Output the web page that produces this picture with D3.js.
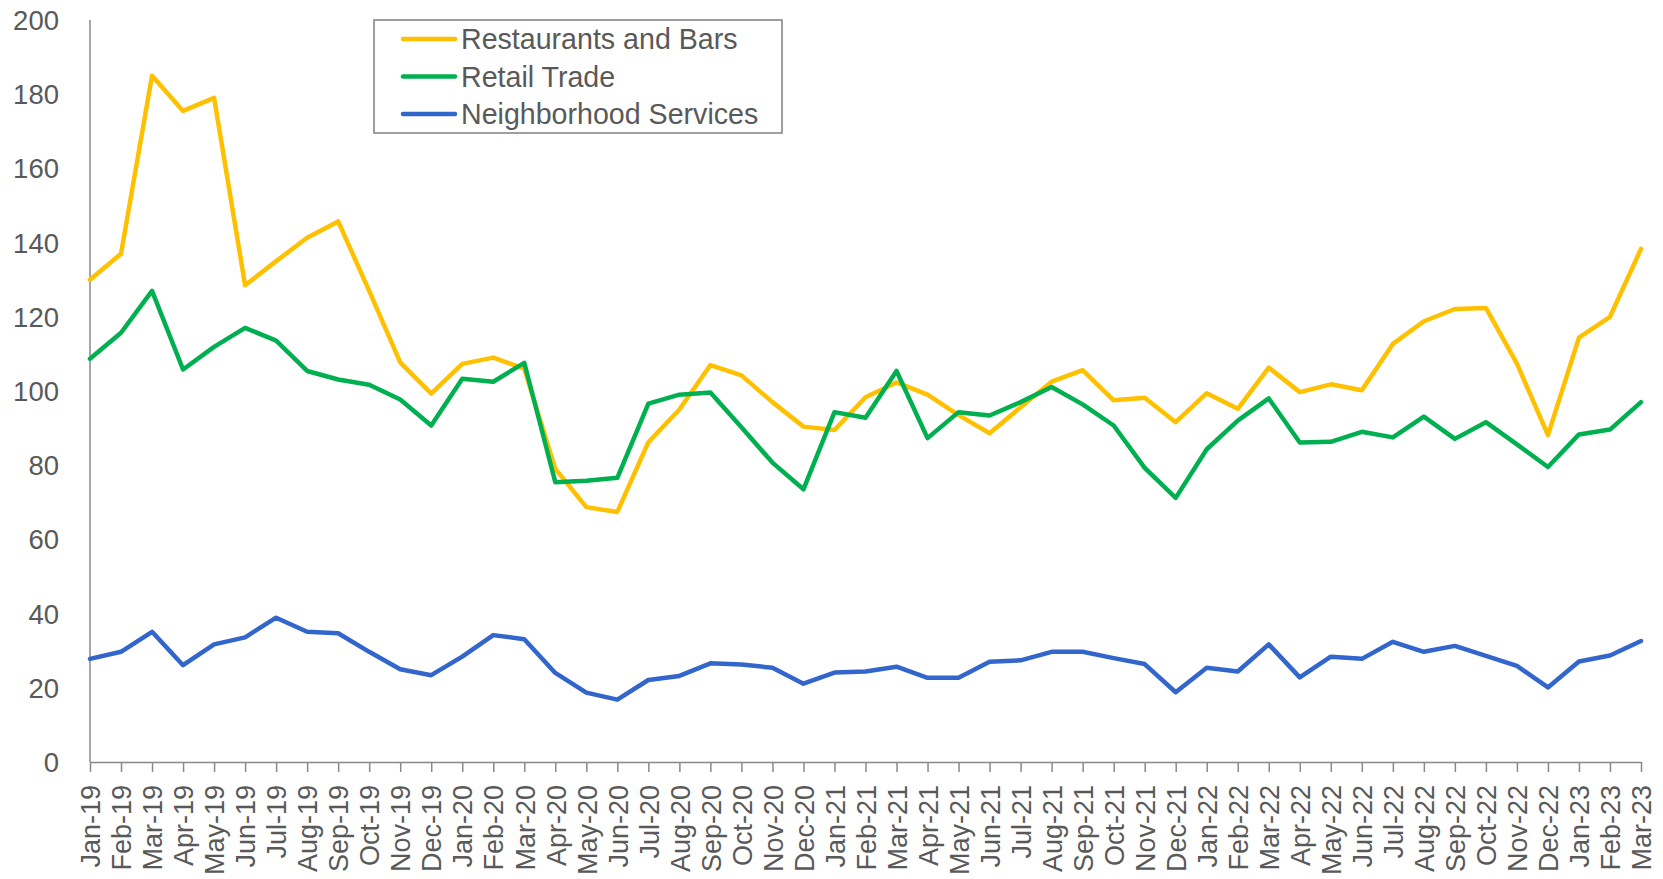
<!DOCTYPE html>
<html>
<head>
<meta charset="utf-8">
<script src="https://cdn.jsdelivr.net/npm/d3@7"></script>
<style>
  body { margin: 0; background: #fff; }
  text { font-family: "Liberation Sans", Arial, sans-serif; fill: #595959; }
</style>
</head>
<body>
<div id="chart"></div>
<script>
(function(){
	var months = ["Jan-19","Feb-19","Mar-19","Apr-19","May-19","Jun-19","Jul-19","Aug-19","Sep-19","Oct-19","Nov-19","Dec-19",
		"Jan-20","Feb-20","Mar-20","Apr-20","May-20","Jun-20","Jul-20","Aug-20","Sep-20","Oct-20","Nov-20","Dec-20",
		"Jan-21","Feb-21","Mar-21","Apr-21","May-21","Jun-21","Jul-21","Aug-21","Sep-21","Oct-21","Nov-21","Dec-21",
		"Jan-22","Feb-22","Mar-22","Apr-22","May-22","Jun-22","Jul-22","Aug-22","Sep-22","Oct-22","Nov-22","Dec-22",
		"Jan-23","Feb-23","Mar-23"];

	var restaurants = [130,137,185,175.5,179,128.5,135,141.3,145.7,127,107.7,99.3,
		107.3,109,106,79,68.7,67.4,86.2,95,107,104.2,97,90.4,
		89.5,98.3,102.3,99,93.5,88.6,95.6,102.5,105.6,97.5,98.2,91.6,
		99.4,95.2,106.3,99.7,101.8,100.2,112.7,118.8,122.1,122.4,107.4,88.1,
		114.4,120,138.3];

	var retail = [108.7,115.7,127,105.8,111.9,117,113.6,105.4,103.1,101.7,97.7,90.7,
		103.3,102.5,107.6,75.4,75.8,76.6,96.6,99,99.6,90.2,80.7,73.5,
		94.3,92.8,105.4,87.3,94.3,93.4,97,101.1,96.4,90.7,79.3,71.2,
		84.3,92,98,86.1,86.3,89,87.5,93.1,87.1,91.6,85.6,79.5,
		88.3,89.6,97];

	var neighborhood = [27.8,29.7,35.1,26.1,31.7,33.6,38.9,35.1,34.7,29.7,25,23.4,
		28.4,34.2,33.1,24,18.7,16.8,22.1,23.2,26.6,26.3,25.4,21.1,
		24.1,24.4,25.7,22.7,22.7,27,27.4,29.7,29.7,28,26.4,18.8,
		25.4,24.4,31.7,22.8,28.4,27.8,32.4,29.7,31.3,28.6,25.9,20.1,
		27.1,28.7,32.6];

	var seriesNames = ["Restaurants and Bars","Retail Trade","Neighborhood Services"];
	var seriesColors = ["#FFC000","#00B050","#3366CC"];
	var yTicks = [0,20,40,60,80,100,120,140,160,180,200];

	var width = 1663,
		height = 879;

	var svg = d3.select("#chart")
		.append("svg")
		.attr("width", width)
		.attr("height", height)

	var x = d3.scalePoint().domain(months).range([90, 1641])
	var y = d3.scaleLinear().domain([0, 200]).range([762, 20])

	// y labels, no tick marks
	svg.append("g")
		.selectAll("text")
		.data(yTicks)
		.enter().append("text")
		.attr("x", 59)
		.attr("y", function(d){ return y(d); })
		.attr("dy", "0.36em")
		.attr("text-anchor", "end")
		.style("font-size", "27.5px")
		.text(function(d){ return d; })

	svg.append("line")
		.attr("x1", 90).attr("x2", 90)
		.attr("y1", y(200)).attr("y2", y(0))
		.attr("stroke", "#898989")
		.attr("stroke-width", 1.5)

	// x axis
	var xAxis = svg.append("g")
		.attr("transform", "translate(0," + y(0) + ")")
		.call(d3.axisBottom(x).tickSize(10).tickSizeOuter(0))

	xAxis.select(".domain").attr("stroke", "#898989").attr("stroke-width", 1.5)
	xAxis.selectAll(".tick line").attr("stroke", "#898989").attr("stroke-width", 1.5)
	xAxis.selectAll(".tick text")
		.attr("transform", "rotate(-90)")
		.attr("x", -23)
		.attr("y", 0)
		.attr("dy", "0.36em")
		.attr("text-anchor", "end")
		.style("font-size", "27px")
		.style("font-family", "Liberation Sans, Arial, sans-serif")
		.attr("fill", "#595959")

	var allSeries = [restaurants, retail, neighborhood];

	var line = d3.line()
		.x(function(d, i){ return x(months[i]); })
		.y(function(d){ return y(d); })

	svg.selectAll(".series")
		.data(allSeries)
		.enter().append("path")
		.attr("class", "series")
		.attr("d", line)
		.attr("fill", "none")
		.attr("stroke", function(d, i){ return seriesColors[i]; })
		.attr("stroke-width", 4.5)
		.attr("stroke-linejoin", "round")
		.attr("stroke-linecap", "round")

	// legend
	var legend = svg.append("g")
	legend.append("rect")
		.attr("x", 374).attr("y", 20)
		.attr("width", 408).attr("height", 113)
		.attr("fill", "#fff")
		.attr("stroke", "#7f7f7f")
		.attr("stroke-width", 1.5)

	var items = legend.selectAll(".item")
		.data(seriesNames)
		.enter().append("g")
		.attr("class", "item")
		.attr("transform", function(d, i){ return "translate(0," + (39 + i * 37.5) + ")"; })

	items.append("line")
		.attr("x1", 403).attr("x2", 455)
		.attr("stroke", function(d, i){ return seriesColors[i]; })
		.attr("stroke-width", 4.5)
		.attr("stroke-linecap", "round")

	items.append("text")
		.attr("x", 461)
		.attr("dy", "0.36em")
		.style("font-size", "28.6px")
		.text(function(d){ return d; })
})();
</script>
</body>
</html>
